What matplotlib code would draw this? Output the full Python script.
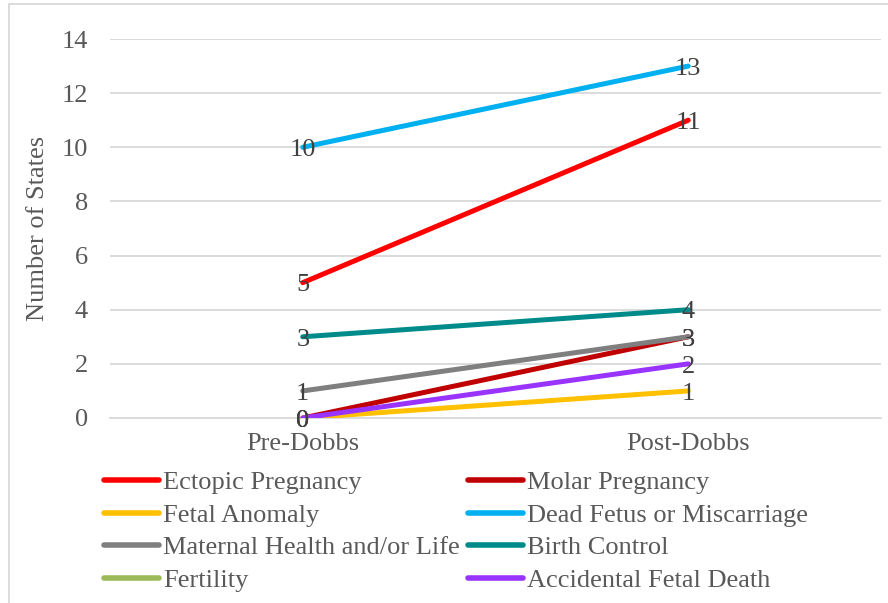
import numpy as np
import matplotlib
matplotlib.use("Agg")
import matplotlib.pyplot as plt
from matplotlib.patches import Rectangle

# Data
periods = ["Pre-Dobbs", "Post-Dobbs"]
ectopic = [5, 11]
molar = [0, 3]
fetal_anomaly = [0, 1]
dead_fetus = [10, 13]
maternal = [1, 3]
birth_control = [3, 4]
fertility = [np.nan, np.nan]   # no values plotted in the original
accidental = [0, 2]

series_names = ["Ectopic Pregnancy", "Molar Pregnancy", "Fetal Anomaly",
                "Dead Fetus or Miscarriage", "Maternal Health and/or Life",
                "Birth Control", "Fertility", "Accidental Fetal Death"]
series_values = [ectopic, molar, fetal_anomaly, dead_fetus, maternal,
                 birth_control, fertility, accidental]
colors = ["#FF0000", "#C00000", "#FFC000", "#00B0F0", "#7F7F7F",
          "#008B8B", "#9BBB59", "#9933FF"]

plt.rcParams['font.family'] = ['Liberation Serif', 'DejaVu Serif']
txt_color = "#595959"
fs = 19

fig = plt.figure(figsize=(8.88, 6.03), dpi=100)
W, H = 888, 603
ax = fig.add_axes([110 / W, 1 - 418 / H, 771 / W, 379 / H])

x = np.arange(len(periods))
handles = []
for name, vals, c in zip(series_names, series_values, colors):
    h, = ax.plot(x, vals, color=c, lw=3.6, solid_capstyle='round', label=name, zorder=3)
    handles.append(h)
    for xi, v in zip(x, vals):
        if not np.isnan(v):
            ax.annotate("%d" % v, (xi, v), xytext=(0, -2), textcoords='offset points',
                        ha='center', va='center', fontsize=fs,
                        color="#404040", zorder=5)

ax.set_xlim(-0.5, 1.5)
ax.set_ylim(0, 14)
ax.set_yticks(np.arange(0, 15, 2))
ax.set_xticks(x)
ax.set_xticklabels(periods)
ax.grid(axis='y', color='#D9D9D9', lw=1.3, zorder=0)
for s in ['top', 'right', 'left']:
    ax.spines[s].set_visible(False)
ax.spines['bottom'].set_color('#D9D9D9')
ax.spines['bottom'].set_linewidth(1.3)
ax.tick_params(axis='both', length=0, labelsize=fs, labelcolor=txt_color)
ax.tick_params(axis='y', pad=16)
ax.tick_params(axis='x', pad=11)
ax.set_ylabel("Number of States", fontsize=fs, color=txt_color, labelpad=9)

order = [0, 2, 4, 6, 1, 3, 5, 7]
leg = fig.legend([handles[i] for i in order], [series_names[i] for i in order],
                 ncol=2, loc='upper left', bbox_to_anchor=(104 / W, 1 - 471 / H),
                 frameon=False, fontsize=fs, handlelength=2.1, handletextpad=0.15,
                 columnspacing=0.28, labelspacing=0.34, borderpad=0, borderaxespad=0)
for t in leg.get_texts():
    t.set_color(txt_color)
for l in leg.get_lines():
    l.set_linewidth(4)

# outer chart border
fig.patches.append(Rectangle((9 / W, -0.05), 1.1, 1 - 4 / H + 0.05,
                             transform=fig.transFigure, fill=False,
                             edgecolor='#D9D9D9', lw=1.3))

fig.savefig("out.png", dpi=100)
